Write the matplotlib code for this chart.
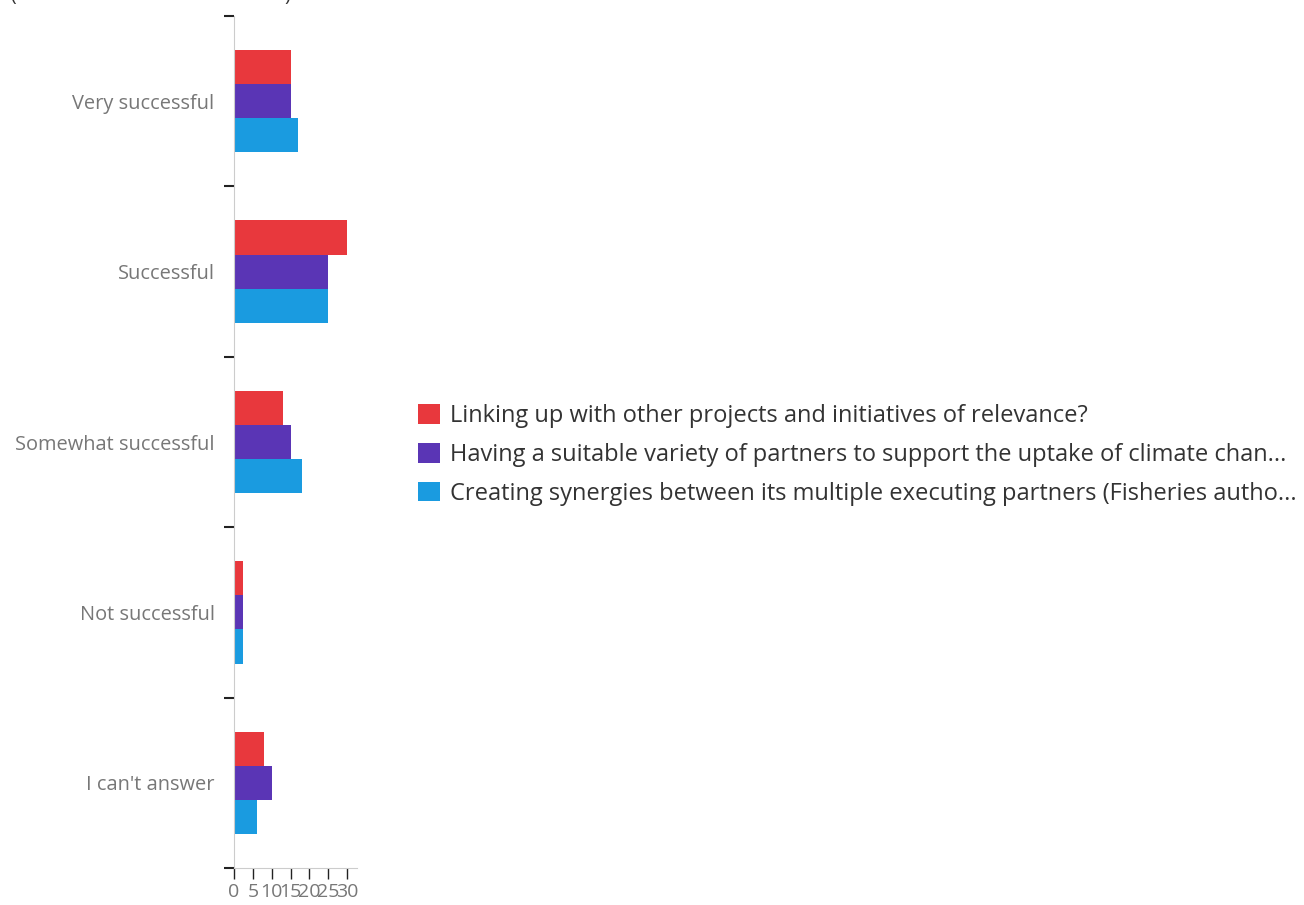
import matplotlib
matplotlib.use("Agg")
import matplotlib.pyplot as plt
import numpy as np

categories = ["Very successful", "Successful", "Somewhat successful", "Not successful", "I can't answer"]
series_names = [
    "Linking up with other projects and initiatives of relevance?",
    "Having a suitable variety of partners to support the uptake of climate chan...",
    "Creating synergies between its multiple executing partners (Fisheries autho...",
]
linking = [15, 30, 13, 2.5, 8]
variety = [15, 25, 15, 2.5, 10]
synergies = [17, 25, 18, 2.5, 6]
colors = ["#e8383d", "#5a35b5", "#1a9be0"]
xticks = [0, 5, 10, 15, 20, 25, 30]

plt.rcParams['font.family'] = ['Open Sans', 'DejaVu Sans']

fig = plt.figure(figsize=(13.04, 9.05), dpi=100)
ax = fig.add_axes([234/1304, 1 - 868/905, 123/1304, 852/905])

n = len(categories)
y = np.arange(n)
h = 0.2
for i, (vals, c, name) in enumerate(zip([linking, variety, synergies], colors, series_names)):
    ax.barh(y + (i - 1) * h, vals, height=h, color=c, label=name)

ax.set_ylim(n - 0.5, -0.5)
ax.set_xlim(0, 32.6)
ax.set_yticks(y)
ax.set_yticklabels(categories, color="#777777", fontsize=14.4)
ax.set_yticks(np.arange(n + 1) - 0.5, minor=True)
ax.tick_params(axis='y', which='major', length=0, pad=14)
ax.tick_params(axis='y', which='minor', length=7, width=1.5, color="#222222")
ax.set_xticks(xticks)
ax.set_xticklabels([str(t) for t in xticks], color="#777777", fontsize=14)
ax.tick_params(axis='x', length=8, width=1, color="#222222", pad=3)

for s in ["top", "right"]:
    ax.spines[s].set_visible(False)
ax.spines["left"].set_color("#cccccc")
ax.spines["bottom"].set_color("#cccccc")

handles, labels = ax.get_legend_handles_labels()
fig.legend(handles, labels, loc="center left", bbox_to_anchor=(397/1304, 1 - 455/905),
           frameon=False, fontsize=17, handlelength=0.9, handleheight=0.9,
           handletextpad=0.45, labelspacing=0.62, labelcolor="#333333")

fig.text(0.008, 1.004, "(", fontsize=14, color="#333333", va="center")
fig.text(0.218, 1.004, ")", fontsize=14, color="#333333", va="center")

fig.savefig("out.png", dpi=100)
